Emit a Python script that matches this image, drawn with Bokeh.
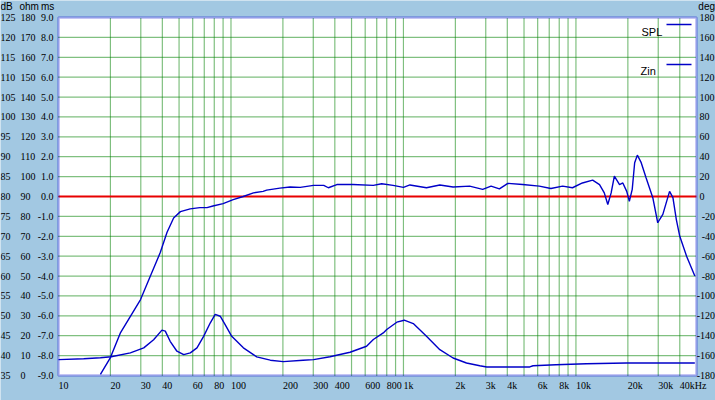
import math
from bokeh.plotting import figure
from bokeh.models import (Range1d, LabelSet, Label, ColumnDataSource, BoxAnnotation)
from bokeh.embed import file_html
from bokeh.resources import INLINE

# ---------------- data ----------------
spl_freq = [17.5, 20, 22.9, 29.9, 34.1, 38.9, 42.6, 46.5, 50.9, 58, 66, 72.6, 78.6,
            90, 103, 117.7, 135, 153.6, 161, 192, 220, 252, 301, 345, 367, 411, 509,
            669, 748, 870, 1000, 1090, 1360, 1625, 1940, 2420, 2880, 3220, 3600, 4030,
            4910, 6130, 7160, 8370, 9550, 10900, 12500, 13700, 14600, 15300, 16000,
            16700, 17900, 18700, 19700, 20400, 21200, 21900, 22700, 23900, 25500,
            27900, 29800, 31900, 34900, 36500, 38200, 40000, 43800, 48900]
spl_db = [35.3, 39.5, 45.8, 54.1, 60.0, 65.9, 71.0, 74.6, 76.2, 76.9, 77.2, 77.2, 77.6,
          78.2, 79.2, 80.0, 80.9, 81.3, 81.6, 82.1, 82.4, 82.3, 82.8, 82.8, 82.2, 83.0, 83.0,
          82.8, 83.2, 82.8, 82.3, 82.9, 82.2, 82.9, 82.4, 82.6, 81.8, 82.6, 81.9, 83.3,
          83.0, 82.6, 82.0, 82.6, 82.2, 83.4, 84.1, 83.0, 80.9, 78.0, 80.9,
          85.1, 83.0, 83.4, 81.3, 78.8, 81.8, 88.5, 90.4, 88.5, 84.7,
          79.7, 73.4, 75.5, 81.3, 79.7, 74.2, 70.0, 65.0, 60.0]

zin_freq = [10, 14, 17.5, 20.2, 26.1, 31.2, 35.6, 39.8, 41.6, 44.4, 48.6, 53.2, 58.1,
            63.5, 69.4, 75.9, 81, 86.6, 92.5, 101, 118, 141, 169, 201, 262, 301, 375,
            490, 611, 669, 764, 800, 915, 1010, 1140, 1360, 1625, 1940, 2320, 2770,
            3040, 4330, 5400, 5640, 7650, 11500, 19600, 48900]
zin_ohm = [8.0, 8.4, 8.9, 9.4, 11.4, 13.9, 18.0, 22.8, 22.3, 17.2, 12.2, 10.5, 11.4,
           13.9, 19.7, 26.5, 30.7, 29.8, 25.6, 19.7, 13.9, 9.4, 7.7, 7.0, 7.7, 8.0, 9.4,
           11.7, 14.7, 18.1, 21.4, 23.1, 26.8, 27.8, 26.1, 19.7, 13.0, 8.8, 6.3, 4.9,
           4.3, 4.3, 4.3, 4.9, 5.4, 5.9, 6.3, 6.3]

freq_min, freq_max = 10, 50000
db_min, db_max = 35, 125
ohm_min, ohm_max = 0, 180
ms_min, ms_max = -9, 9
deg_min, deg_max = -180, 180
reference_db = 80

x_tick_values = [10, 20, 30, 40, 60, 80, 100, 200, 300, 400, 600, 800, 1000, 2000,
                 3000, 4000, 6000, 8000, 10000, 20000, 30000, 40000]
x_tick_labels = ["10", "20", "30", "40", "60", "80", "100", "200", "300", "400", "600",
                 "800", "1k", "2k", "3k", "4k", "6k", "8k", "10k", "20k", "30k", "40kHz"]
x_grid_values = [20, 30, 40, 50, 60, 70, 80, 90, 100, 200, 300, 400, 500, 600, 700, 800,
                 900, 1000, 2000, 3000, 4000, 5000, 6000, 7000, 8000, 9000, 10000,
                 20000, 30000, 40000]
y_grid_values = [120, 115, 110, 105, 100, 95, 90, 85, 80, 75, 70, 65, 60, 55, 50, 45, 40]

db_ticks = [125, 120, 115, 110, 105, 100, 95, 90, 85, 80, 75, 70, 65, 60, 55, 50, 45, 40, 35]
db_labels = ["125", "120", "115", "110", "105", "100", "95", "90", "85", "80", "75", "70",
             "65", "60", "55", "50", "45", "40", "35"]
ohm_ticks = [180, 170, 160, 150, 140, 130, 120, 110, 100, 90, 80, 70, 60, 50, 40, 30, 20, 10, 0]
ohm_labels = ["180", "170", "160", "150", "140", "130", "120", "110", "100", "90", "80",
              "70", "60", "50", "40", "30", "20", "10", "0"]
ms_ticks = [9, 8, 7, 6, 5, 4, 3, 2, 1, 0, -1, -2, -3, -4, -5, -6, -7, -8, -9]
ms_labels = ["9.0", "8.0", "7.0", "6.0", "5.0", "4.0", "3.0", "2.0", "1.0", "0.0",
             "-1.0", "-2.0", "-3.0", "-4.0", "-5.0", "-6.0", "-7.0", "-8.0", "-9.0"]
deg_ticks_pos = [180, 160, 140, 120, 100, 80, 60, 40, 20, 0]
deg_labels_pos = ["180", "160", "140", "120", "100", "80", "60", "40", "20", "0"]
deg_ticks_neg = [-20, -40, -60, -80, -100, -120, -140, -160, -180]
deg_labels_neg = ["-20", "-40", "-60", "-80", "-100", "-120", "-140", "-160", "-180"]

# ---------------- layout (pixels of the 715x400 canvas) ----------------
W, H = 715, 400
BOX_L, BOX_R, BOX_T, BOX_B = 58, 696, 17, 375   # plot box inside the canvas


def lin_range(lo, hi):
    s = (BOX_B - BOX_T) / (hi - lo)
    return Range1d(lo - (H - BOX_B) / s, hi + BOX_T / s)


kx = (BOX_R - BOX_L) / math.log10(freq_max / freq_min)
x_range = Range1d(freq_min / 10 ** (BOX_L / kx), freq_max * 10 ** ((W - BOX_R) / kx))

BG = "#a2c8e2"
BLUE = "#0000c8"
FONT = "Liberation Sans"
FS = "10px"

p = figure(width=W, height=H, x_axis_type="log", x_range=x_range,
           y_range=lin_range(db_min, db_max),
           x_axis_location=None, y_axis_location=None,
           toolbar_location=None, output_backend="svg",
           min_border=0, min_border_left=0, min_border_right=0,
           min_border_top=0, min_border_bottom=0)
p.extra_y_ranges = {"ohm": lin_range(ohm_min, ohm_max), "ms": lin_range(ms_min, ms_max),
                    "deg": lin_range(deg_min, deg_max)}
p.border_fill_color = BG
p.background_fill_color = BG
p.outline_line_color = None
p.grid.visible = False

# white plot box
p.add_layout(BoxAnnotation(left=freq_min, right=freq_max, bottom=db_min, top=db_max,
                           fill_color="white", fill_alpha=1, line_color=None,
                           level="underlay"))

# dotted grid
gx = dict(line_color="#008000", line_dash="1 1", line_width=1.2)
p.segment(x0=x_grid_values, y0=[db_min] * len(x_grid_values),
          x1=x_grid_values, y1=[db_max] * len(x_grid_values), **gx)
p.segment(x0=[freq_min] * len(y_grid_values), y0=y_grid_values,
          x1=[freq_max] * len(y_grid_values), y1=y_grid_values, **gx)
# reference line
p.segment(x0=[freq_min], y0=[reference_db], x1=[freq_max], y1=[reference_db],
          line_color="#e80000", line_width=2)

# curves
p.line(zin_freq, zin_ohm, y_range_name="ohm", line_color=BLUE, line_width=1.4)
p.line(spl_freq, spl_db, line_color=BLUE, line_width=1.4)

# box frame
p.add_layout(BoxAnnotation(left=freq_min, right=freq_max, bottom=db_min, top=db_max,
                           fill_alpha=0, line_color="#0000d0", line_width=2.5))

txt = dict(text_font=FONT, text_font_size=FS, text_color="black",
           text_baseline="middle")

# x tick labels (left aligned at the tick)
p.add_layout(LabelSet(source=ColumnDataSource(dict(x=x_tick_values, t=x_tick_labels)),
                      x="x", y=H - 385, y_units="screen", text="t", text_align="left",
                      **txt))
# left columns
p.add_layout(LabelSet(source=ColumnDataSource(dict(y=db_ticks, t=db_labels)),
                      x=0, x_units="screen", y="y", text="t", text_align="left", **txt))
p.add_layout(LabelSet(source=ColumnDataSource(dict(y=ohm_ticks, t=ohm_labels)),
                      x=20, x_units="screen", y="y", y_range_name="ohm", text="t",
                      text_align="left", **txt))
p.add_layout(LabelSet(source=ColumnDataSource(dict(y=ms_ticks, t=ms_labels)),
                      x=53, x_units="screen", y="y", y_range_name="ms", text="t",
                      text_align="right", **txt))
# right column
p.add_layout(LabelSet(source=ColumnDataSource(dict(y=deg_ticks_pos, t=deg_labels_pos)),
                      x=699, x_units="screen", y="y", y_range_name="deg", text="t",
                      text_align="left", **txt))
p.add_layout(LabelSet(source=ColumnDataSource(dict(y=deg_ticks_neg, t=deg_labels_neg)),
                      x=714.5, x_units="screen", y="y", y_range_name="deg", text="t",
                      text_align="right", **txt))
# unit headers
for t, xs, al in (("dB", 0, "left"), ("ohm", 19, "left"), ("ms", 40.5, "left"),
                  ("deg", 714.5, "right")):
    p.add_layout(Label(x=xs, y=H - 6, x_units="screen", y_units="screen", text=t,
                       text_align=al, **txt))

# legend
for name, tx, ty, ly in (("SPL", 641, H - 31, H - 24), ("Zin", 640, H - 70.5, H - 64)):
    p.add_layout(Label(x=tx, y=ty, x_units="screen", y_units="screen", text=name,
                       text_align="left", text_baseline="middle", text_font=FONT,
                       text_font_size="11px", text_color="black"))
    p.add_layout(BoxAnnotation(left=666, right=691, bottom=ly - 0.7, top=ly + 0.7,
                               left_units="screen", right_units="screen",
                               bottom_units="screen", top_units="screen",
                               fill_color=BLUE, fill_alpha=1, line_color=None))

open("out.html", "w").write(file_html(p, INLINE))
